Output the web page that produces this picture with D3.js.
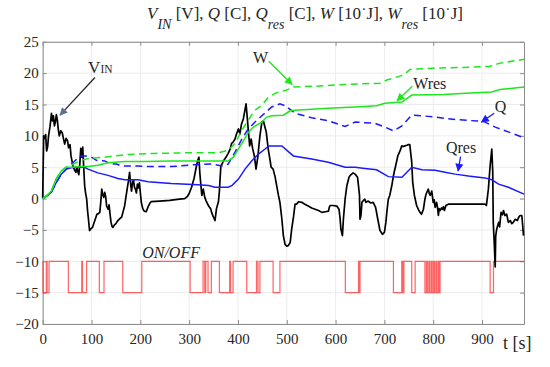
<!DOCTYPE html>
<html>
<head>
<meta charset="utf-8">
<script src="https://d3js.org/d3.v7.min.js"></script>
<style>
  body { margin: 0; background: #fff; }
  svg { display: block; }
  svg text { font-family: "Liberation Serif", "Times New Roman", serif; }
</style>
</head>
<body>
<div id="chart"></div>
<script>
/* V_IN, Q, Qres, W, Wres and ON/OFF state against time */

// input voltage V_IN [V], pairs of [t, value]
const vin = [
  [0,0],[1,5],[2,10],[4,9.6],[6,10.2],[8,7.6],[10,8.2],[12,10],[15,11.5],[18,13.6],[20,12.4],[22,13.2],
  [24,11.6],[26,12.2],[28,13.4],[30,12.5],[32,11],[34,10],[37,10.8],[40,10.5],[43,9.4],[45,8.7],[48,9.6],
  [51,9.2],[53,8.1],[56,8.6],[58,6.8],[60,6],[62,5.2],[65,4.6],[68,4.2],[70,5],[72,4.3],[74,3.8],[76,5.5],
  [78,8],[80,6.6],[82,8.2],[84,5],[86,2],[88,0.8],[90,0],[92,-2],[94,-3.5],[96,-5.1],[99,-4.8],[102,-4.6],
  [105,-3.9],[108,-3.2],[111,-2.5],[114,-2.4],[117,-2.2],[119,-0.5],[121,1.5],[123,0.6],[125,0.2],[127,1],
  [129,0.3],[131,-1.2],[134,-1.7],[136,-1],[138,-2.5],[140,-3.8],[142,-4.4],[144,-4.6],[147,-4.2],[150,-4],
  [154,-3.5],[158,-3.2],[162,-2.9],[165,-2],[168,-1.1],[170,0],[173,1.5],[176,3],[178,4.2],[180,2.4],
  [182,1.2],[184,2.6],[186,3],[188,1.8],[190,1.5],[192,0.9],[194,2.3],[196,1.7],[198,2.5],[200,1],
  [202,-0.6],[205,-1.6],[208,-2],[212,-2.1],[216,-1.3],[220,-0.7],[222,-0.5],[240,-0.4],[260,-0.3],
  [280,-0.1],[291,0],[296,0.3],[300,0.8],[305,1.8],[310,3.2],[315,5.2],[318,6.2],[320,6.6],[322,4],
  [324,2.2],[326,0.5],[329,1.5],[332,0.2],[335,-0.4],[338,-0.9],[341,-1.3],[344,-1.6],[346,-2.2],
  [349,-2.8],[353,-3.5],[356,-1.6],[360,-0.5],[362,1.2],[363,2.6],[365,5.2],[368,5.6],[370,6],[373,6.3],
  [377,6.8],[380,7.2],[384,7.9],[387,8.8],[390,9],[394,9.5],[397,10.3],[401,11.1],[404,10.3],[407,11.8],
  [411,12.7],[414,14],[416.6,15.1],[419,13],[421,11.1],[424,8.4],[427,9.5],[430,8],[433.6,6.8],[437,4.7],
  [441,6.8],[443,8.5],[445,10],[449,12.2],[452,12.4],[455,11.5],[458,10.6],[462,7.9],[465,6.5],[468,5],
  [472,4.7],[476,3.5],[479.5,2],[483,0.5],[486,-0.6],[490,-3.3],[493,-5.9],[496.5,-7.3],[500,-7.6],
  [503,-7.5],[507,-7],[510,-4.9],[514,-2.8],[517,-0.9],[520,-0.9],[524,-0.5],[530.7,-0.6],[537,-0.9],
  [544,-1.2],[551,-1.5],[558,-1.7],[565,-1.9],[572,-2.2],[579,-2.1],[585.5,-2],[587,-1.4],[589,-1.1],
  [595,-1.1],[602.5,-1.2],[607,-1.7],[609,-3],[611,-4.9],[614,-5.9],[616,-3.3],[619.5,-0.1],[623,2],
  [627.5,3.4],[630,3.7],[633,3.9],[636,4.1],[640,3.9],[645,3.4],[647,2],[649,0.5],[650,-3.3],[652,-2.7],
  [654,-0.6],[657,-0.3],[660,-0.1],[662,-0.6],[667,-0.4],[672,-0.7],[677,-0.6],[682,-1.4],[686.5,-3.3],
  [691,-5.1],[696,-5.7],[700,-5.4],[703,-3.8],[705,-2.2],[708,-0.1],[711,0.5],[715,2],[718.5,3.6],[720,4.2],
  [723,5.2],[727.5,6.8],[732,7.6],[735.6,8.4],[739,8.3],[742,8.4],[746,8.5],[749,8.6],[752,8.6],[756,5.8],
  [758,2.6],[761.5,0.5],[766,-1.1],[770,-1.8],[773,-2.2],[776,-2.5],[780,-1.7],[783,-0.1],[785,0.6],
  [787,1],[790,1.5],[792,0.8],[794,0.5],[797,1.2],[800,-0.6],[802,-0.2],[804,-1.4],[807,-0.6],[809,-1.5],
  [810.6,-2.7],[812,-1.6],[814,-1.9],[817,-1.5],[819,-1.7],[821,-1.3],[823,-1.9],[826,-1.1],[831,-0.9],
  [838,-0.9],[870,-0.9],[906,-0.9],[909,-1.1],[913,1.5],[916.6,5.2],[920,7.9],[922,4.2],[923,-3.8],
  [925,-7],[927,-10.9],[928,-6],[930,-4.9],[934,-3.8],[936,-4.5],[939,-2.2],[942,-2.6],[944,-1.9],
  [947,-2.7],[950.5,-2.5],[954,-3.8],[958,-3.5],[961,-4],[964,-3.8],[968,-3.3],[972.5,-3.5],[975,-3],
  [978,-2.7],[981.5,-2.7],[983,-4],[985,-5.9]
];

// charge Q [C] (dashed) and Qres [C] (solid)
const q = [
  [0,0],[10,0.5],[17.6,1],[28,2.6],[38,3.9],[48,4.7],[55,5],[60,5.6],[70,6.3],[79,6.8],[89,6.8],
  [99.6,6.6],[110,6.1],[127,6],[140,5.5],[151,5.5],[161,5.2],[195,5.2],[222,5.1],[263.5,5.1],[311.5,5.4],
  [346,5.5],[367,5.2],[380,5.5],[394,7.4],[408,9.5],[421,11.1],[435,12.2],[449,13.2],[469,14.6],
  [486,15.1],[497,14.8],[517,13.6],[551,12.9],[585,12.4],[619.5,11.5],[640,12.2],[681,12],[701,11.4],
  [718.5,10.8],[736,11.6],[756,13.3],[777,13.2],[804,13],[845,12.6],[903,12.3],[927,11.4],[955,10.6],
  [986,9.7]
];
const qres = [
  [0,0],[10,0.5],[17.6,1],[28,2.6],[38,3.9],[48,4.7],[58,4.9],[70,5],[86,5],[93,4.7],[113,4.1],
  [134,3.7],[154,3.2],[168,3],[195,3],[216,2.7],[263.5,2.4],[318,2.2],[340,2.1],[353,1.8],[380,1.8],
  [388,2.1],[401,3.1],[414.5,4.7],[428,6],[442,7.1],[455.5,7.9],[463,8.4],[490,8.4],[513.5,6.8],
  [551,6.3],[585,5.8],[619.5,5],[640,5],[660,4.8],[684,4.6],[708,3.5],[736,3.4],[756,5],[777,4.6],
  [804,4.5],[824,4.2],[845,3.9],[872,3.6],[906,3.3],[920,3],[934,2.3],[954,1.8],[986,0.7]
];

// energy W [10^3 J] (dashed) and Wres (solid)
const w = [
  [0,0],[10,0.6],[17.6,1.2],[28,3.2],[38,4.4],[48,5],[55,5.2],[65,5.6],[79,6.1],[93,6.4],[127,6.6],
  [168,7],[229,7.2],[298,7.3],[339,7.3],[360,7.3],[380,7.7],[394,8.8],[408,10.9],[421,12.5],[435,14.1],
  [449,14.9],[462.7,16.2],[479.5,16.9],[500,17.3],[513,17.8],[554.5,17.9],[623,18.2],[691,18.4],
  [705,18.9],[739,19.7],[752.6,20.6],[800,20.8],[855,20.9],[916.6,21.1],[937,21.6],[986,22.2]
];
const wres = [
  [0,0],[10,0.6],[17.6,1.2],[28,3.2],[38,4.4],[48,5],[58,5],[79,5.1],[93,5.1],[113,5.3],[134,5.7],
  [168,5.9],[209,5.9],[263.5,6],[318,6],[380,6],[390.6,6.6],[408,8.8],[421.5,10.6],[431.6,11.4],
  [449,12.2],[459,13],[469,13.2],[493,13.3],[507,14],[517,14.1],[585,14.4],[660,14.7],[684,14.8],
  [701,15.2],[736,15.4],[756,16.5],[821,16.6],[867,16.8],[920,17],[937,17.4],[986,17.8]
];

// ON/OFF state: -10 = ON, -15 = OFF, held until the next switch time
const switchT = [
  0,0.6,7.5,9,13,52.5,80,81.5,90,116,125.6,164,203,302,328.5,332,334,338.7,345.5,362,383,385,390,
  418,438,441,445,472,486,620,647,648,650,718.5,735.6,738,740,756,763,783,786,788,791,793,796,798,
  801,803,806,808,811,812,814,916.6,923.5,986
];
const switchState = [
  -10,-15,-10,-15,-10,-15,-10,-15,-10,-15,-10,-15,-10,-15,-10,-15,-10,-15,-10,-15,-10,-15,-10,
  -15,-10,-15,-10,-15,-10,-15,-10,-15,-10,-15,-10,-15,-10,-15,-10,-15,-10,-15,-10,-15,-10,-15,
  -10,-15,-10,-15,-10,-15,-10,-15,-10,-10
];

const xTicks = [0,100,200,300,400,500,600,700,800,900];
const yTicks = [-20,-15,-10,-5,0,5,10,15,20,25];

const config = {
  WIDTH: 550,
  HEIGHT: 367,
  LEFT: 42.7,
  RIGHT: 524,
  TOP: 41.8,
  BOTTOM: 324,
  T_MAX: 986,
  FONT: '"Liberation Serif", "Times New Roman", serif',
  GREEN: '#1ee61e',
  BLUE: '#1a1aff',
  RED: '#ff2020',
  DASH: '7,4.5'
};

// annotation labels, in data units
const notes = [
  { text: 'W', t: 431, v: 21.6, from: [463, 21.9], to: [511, 18.2], colour: config.GREEN },
  { text: 'Wres', t: 759, v: 17.5, from: [757, 17.9], to: [726, 15.6], colour: config.GREEN },
  { text: 'Q', t: 926, v: 13.8, from: [925, 13.6], to: [899, 12.2], colour: config.BLUE },
  { text: 'Qres', t: 826, v: 7.2, from: [856, 6.7], to: [851, 4.4], colour: config.BLUE }
];

const svg = d3.select('#chart').append('svg')
  .attr('width', config.WIDTH)
  .attr('height', config.HEIGHT);

const x = d3.scaleLinear().domain([0, config.T_MAX]).range([config.LEFT, config.RIGHT]);
const y = d3.scaleLinear().domain([-20, 25]).range([config.BOTTOM, config.TOP]);

// arrowheads
const defs = svg.append('defs');
const addMarker = (id, colour) => {
  defs.append('marker')
    .attr('id', id)
    .attr('viewBox', '0 0 10 10')
    .attr('refX', 9).attr('refY', 5)
    .attr('markerUnits', 'userSpaceOnUse')
    .attr('markerWidth', 9).attr('markerHeight', 8)
    .attr('orient', 'auto')
    .append('path')
    .attr('d', 'M0,0 L10,5 L0,10 z')
    .attr('fill', colour);
};
addMarker('arrow-green', config.GREEN);
addMarker('arrow-blue', config.BLUE);
addMarker('arrow-vin', '#5a7094');

// grid
svg.append('g').selectAll('line')
  .data(xTicks)
  .enter().append('line')
  .attr('x1', d => x(d)).attr('x2', d => x(d))
  .attr('y1', config.TOP).attr('y2', config.BOTTOM)
  .attr('stroke', '#ececec').attr('stroke-width', 1);

svg.append('g').selectAll('line')
  .data(yTicks)
  .enter().append('line')
  .attr('x1', config.LEFT).attr('x2', config.RIGHT)
  .attr('y1', d => y(d)).attr('y2', d => y(d))
  .attr('stroke', '#ececec').attr('stroke-width', 1);

// axes, box with inward ticks
const styleAxis = (g) => {
  g.attr('font-family', config.FONT).attr('font-size', 15);
  g.select('.domain').attr('stroke', '#8c8c8c');
  g.selectAll('.tick line').attr('stroke', '#8c8c8c');
  g.selectAll('.tick text').attr('fill', '#262626');
};

svg.append('g')
  .attr('transform', `translate(0,${config.BOTTOM})`)
  .call(d3.axisBottom(x).tickValues(xTicks).tickFormat(d => d).tickSizeInner(-4).tickSizeOuter(0).tickPadding(9))
  .call(styleAxis);

svg.append('g')
  .attr('transform', `translate(${config.LEFT},0)`)
  .call(d3.axisLeft(y).tickValues(yTicks).tickFormat(d => d < 0 ? '\u2212' + Math.abs(d) : d)
    .tickSizeInner(-4).tickSizeOuter(0).tickPadding(4))
  .call(styleAxis);

svg.append('g')
  .attr('transform', `translate(0,${config.TOP})`)
  .call(d3.axisTop(x).tickValues(xTicks).tickFormat('').tickSizeInner(-4).tickSizeOuter(0))
  .call(styleAxis);

svg.append('g')
  .attr('transform', `translate(${config.RIGHT},0)`)
  .call(d3.axisRight(y).tickValues(yTicks).tickFormat('').tickSizeInner(-4).tickSizeOuter(0))
  .call(styleAxis);

// series
const line = d3.line().x(d => x(d[0])).y(d => y(d[1]));

const onoff = switchT.map((t, i) => [t, switchState[i]]);
svg.append('path')
  .datum(onoff)
  .attr('d', d3.line().x(d => x(d[0])).y(d => y(d[1])).curve(d3.curveStepAfter))
  .attr('fill', 'none')
  .attr('stroke', config.RED)
  .attr('stroke-opacity', 0.7)
  .attr('stroke-width', 1.2);

svg.append('path')
  .datum(vin)
  .attr('d', line)
  .attr('fill', 'none')
  .attr('stroke', '#000')
  .attr('stroke-width', 1.7)
  .attr('stroke-linejoin', 'round');

const series = [
  { data: qres, colour: config.BLUE, dash: null },
  { data: q, colour: config.BLUE, dash: config.DASH },
  { data: wres, colour: config.GREEN, dash: null },
  { data: w, colour: config.GREEN, dash: config.DASH }
];

series.forEach(s => {
  svg.append('path')
    .datum(s.data)
    .attr('d', line)
    .attr('fill', 'none')
    .attr('stroke', s.colour)
    .attr('stroke-width', 1.5)
    .attr('stroke-dasharray', s.dash);
});

// labels with arrows
notes.forEach(n => {
  svg.append('text')
    .attr('x', x(n.t)).attr('y', y(n.v))
    .attr('font-size', 16)
    .attr('fill', '#262626')
    .text(n.text);
  svg.append('line')
    .attr('x1', x(n.from[0])).attr('y1', y(n.from[1]))
    .attr('x2', x(n.to[0])).attr('y2', y(n.to[1]))
    .attr('stroke', n.colour).attr('stroke-width', 1.3)
    .attr('marker-end', n.colour === config.GREEN ? 'url(#arrow-green)' : 'url(#arrow-blue)');
});

// V_IN label
const vinLabel = svg.append('text')
  .attr('x', x(93)).attr('y', y(20))
  .attr('fill', '#262626');
vinLabel.append('tspan').attr('font-size', 17).text('V');
vinLabel.append('tspan').attr('font-size', 11.5).text('IN');

svg.append('line')
  .attr('x1', x(107)).attr('y1', y(19.3))
  .attr('x2', x(35.5)).attr('y2', y(13.3))
  .attr('stroke', '#262626').attr('stroke-width', 1.3)
  .attr('marker-end', 'url(#arrow-vin)');

svg.append('text')
  .attr('x', x(263)).attr('y', y(-9.4))
  .attr('text-anchor', 'middle')
  .attr('font-size', 16)
  .attr('font-style', 'italic')
  .attr('fill', '#262626')
  .text('ON/OFF');

// x axis name
svg.append('text')
  .attr('x', 503).attr('y', 349)
  .attr('font-size', 18)
  .attr('fill', '#262626')
  .text('t [s]');

// title
const title = svg.append('text')
  .attr('x', 305).attr('y', 19)
  .attr('text-anchor', 'middle')
  .attr('font-size', 17)
  .attr('fill', '#262626');

const titleParts = [
  ['V', 'italic', 0], ['IN', 'italic', 1], [' [V], ', 'normal', 0],
  ['Q', 'italic', 0], [' [C], ', 'normal', 0],
  ['Q', 'italic', 0], ['res', 'italic', 1], [' [C], ', 'normal', 0],
  ['W', 'italic', 0], [' [10\u02D9J], ', 'normal', 0],
  ['W', 'italic', 0], ['res', 'italic', 1], [' [10\u02D9J]', 'normal', 0]
];
let lowered = false;
titleParts.forEach(p => {
  const sub = p[2] === 1;
  const ts = title.append('tspan')
    .attr('font-style', p[1])
    .text(p[0]);
  if (sub) {
    ts.attr('font-size', 14).attr('dy', 10);
    lowered = true;
  } else if (lowered) {
    ts.attr('dy', -10);
    lowered = false;
  }
});
</script>
</body>
</html>
